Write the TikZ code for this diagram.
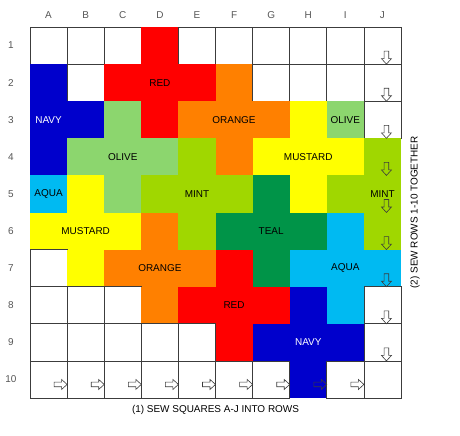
\documentclass[tikz,border=0pt]{standalone}
\usepackage{fontspec}
\setmainfont{Liberation Sans}
\usepackage{tikz}
\usepackage{xcolor}

\definecolor{qnavy}{RGB}{0,0,204}
\definecolor{qred}{RGB}{255,0,0}
\definecolor{qorange}{RGB}{255,128,0}
\definecolor{qolive}{RGB}{140,214,110}
\definecolor{qmint}{RGB}{160,215,0}
\definecolor{qmustard}{RGB}{255,255,0}
\definecolor{qteal}{RGB}{0,148,72}
\definecolor{qaqua}{RGB}{0,186,242}
\definecolor{gridgray}{RGB}{60,60,60}
\definecolor{axisgray}{RGB}{85,85,85}

\begin{document}
\begin{tikzpicture}[x=37.1bp, y=37.1bp,
    cell/.style={rectangle, minimum size=37.1bp, inner sep=0pt, outer sep=0pt},
    wh/.style={cell, fill=white, draw=gridgray, line width=0.7bp},
    rd/.style={cell, fill=qred},
    nv/.style={cell, fill=qnavy},
    or/.style={cell, fill=qorange},
    ol/.style={cell, fill=qolive},
    mi/.style={cell, fill=qmint},
    mu/.style={cell, fill=qmustard},
    te/.style={cell, fill=qteal},
    aq/.style={cell, fill=qaqua},
    patchlbl/.style={font=\fontsize{10}{12}\selectfont, text=black},
    axislbl/.style={font=\fontsize{10}{12}\selectfont, text=axisgray},
    sewarrow/.pic={\draw[gridgray, line width=0.6bp, line join=miter]
        (-2.3bp,13bp) -- (2.3bp,13bp) -- (2.3bp,5.5bp) -- (5bp,5.5bp) -- (0,0)
        -- (-5bp,5.5bp) -- (-2.3bp,5.5bp) -- cycle;}]
    \path[use as bounding box] (-30bp,27bp) rectangle (430bp,-409bp);

    % Squares, row by row (columns A-J)
    \foreach \f [count=\c from 0] in {wh,wh,wh,rd,wh,wh,wh,wh,wh,wh}
        \node[\f] (c-\c-1) at (\c+.5,-.5) {};
    \foreach \f [count=\c from 0] in {nv,wh,rd,rd,rd,or,wh,wh,wh,wh}
        \node[\f] (c-\c-2) at (\c+.5,-1.5) {};
    \foreach \f [count=\c from 0] in {nv,nv,ol,rd,or,or,or,mu,ol,wh}
        \node[\f] (c-\c-3) at (\c+.5,-2.5) {};
    \foreach \f [count=\c from 0] in {nv,ol,ol,ol,mi,or,mu,mu,mu,mi}
        \node[\f] (c-\c-4) at (\c+.5,-3.5) {};
    \foreach \f [count=\c from 0] in {aq,mu,ol,mi,mi,mi,te,mu,mi,mi}
        \node[\f] (c-\c-5) at (\c+.5,-4.5) {};
    \foreach \f [count=\c from 0] in {mu,mu,mu,or,mi,te,te,te,aq,mi}
        \node[\f] (c-\c-6) at (\c+.5,-5.5) {};
    \foreach \f [count=\c from 0] in {wh,mu,or,or,or,rd,te,aq,aq,aq}
        \node[\f] (c-\c-7) at (\c+.5,-6.5) {};
    \foreach \f [count=\c from 0] in {wh,wh,wh,or,rd,rd,rd,nv,aq,wh}
        \node[\f] (c-\c-8) at (\c+.5,-7.5) {};
    \foreach \f [count=\c from 0] in {wh,wh,wh,wh,wh,rd,nv,nv,nv,wh}
        \node[\f] (c-\c-9) at (\c+.5,-8.5) {};
    \foreach \f [count=\c from 0] in {wh,wh,wh,wh,wh,wh,wh,nv,wh,wh}
        \node[\f] (c-\c-10) at (\c+.5,-9.5) {};

    % Colour names
    \node[patchlbl] (red-top) at (c-3-2) {RED};
    \node[patchlbl, text=white] (navy-top) at (c-0-3) {NAVY};
    \node[patchlbl] (orange-top) at (c-5-3) {ORANGE};
    \node[patchlbl] (olive-right) at (c-8-3) {OLIVE};
    \node[patchlbl] (olive-left) at (c-2-4) {OLIVE};
    \node[patchlbl] (mustard-right) at (c-7-4) {MUSTARD};
    \node[patchlbl] (aqua-left) at (c-0-5) {AQUA};
    \node[patchlbl] (mint-mid) at (c-4-5) {MINT};
    \node[patchlbl] (mint-right) at (c-9-5) {MINT};
    \node[patchlbl] (mustard-left) at (c-1-6) {MUSTARD};
    \node[patchlbl] (teal-mid) at (c-6-6) {TEAL};
    \node[patchlbl] (orange-low) at (c-3-7) {ORANGE};
    \node[patchlbl] (aqua-right) at (c-8-7) {AQUA};
    \node[patchlbl] (red-low) at (c-5-8) {RED};
    \node[patchlbl, text=white] (navy-low) at (c-7-9) {NAVY};

    % Column and row labels
    \foreach \l [count=\c from 0] in {A,B,C,D,E,F,G,H,I,J}
        \node[axislbl] (col-\l) at ([yshift=12bp]c-\c-1.north) {\l};
    \foreach \r in {1,...,10}
        \node[axislbl] (row-\r) at ([xshift=-19bp]c-0-\r.west) {\r};

    % Sewing arrows
    \foreach \r in {1,...,9}
        \pic at ([xshift=4bp]c-9-\r.south) {sewarrow};
    \foreach \c in {0,...,8}
        \pic[rotate=90] at ([yshift=-5bp]c-\c-10.east) {sewarrow};

    % Instructions
    \node[patchlbl] (sew-squares) at ([yshift=-12bp]c-4-10.south east) {(1) SEW SQUARES A-J INTO ROWS};
    \node[patchlbl, rotate=90] (sew-rows) at ([xshift=14bp]c-9-5.south east) {(2) SEW ROWS 1-10 TOGETHER};
\end{tikzpicture}
\end{document}
